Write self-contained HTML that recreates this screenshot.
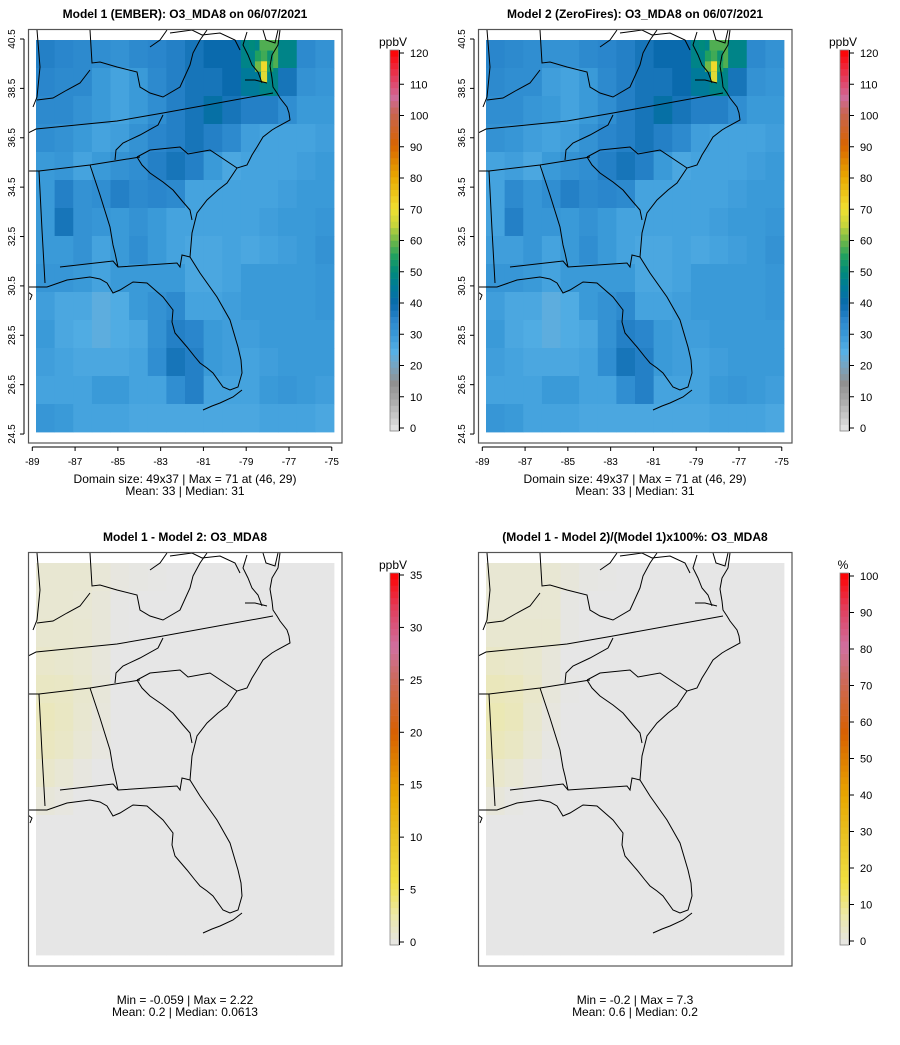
<!DOCTYPE html>
<html><head><meta charset="utf-8">
<style>
html,body{margin:0;padding:0;background:#fff;}
svg{display:block;font-family:"Liberation Sans",sans-serif;}
</style></head>
<body>
<svg id="fig" width="900" height="1045" viewBox="0 0 900 1045" xmlns="http://www.w3.org/2000/svg"></svg>
<script>
// ---- DATA ----
const lonTicks = [-89,-87,-85,-83,-81,-79,-77,-75];
const latTicks = [24.5,26.5,28.5,30.5,32.5,34.5,36.5,38.5,40.5];
const ppbTicks = [0,10,20,30,40,50,60,70,80,90,100,110,120];
const diffTicks = [0,5,10,15,20,25,30,35];
const pctTicks = [0,10,20,30,40,50,60,70,80,90,100];
// Model 1 O3 grid (rows north->south, cols west->east), ppbV
const model1 = [
[36,35,34,33,32,34,35,36,38,40,40,48,58,48,34,32],
[35,34,34,30,28,30,34,36,38,38,40,45,48,38,32,31],
[34,34,32,30,28,30,33,36,38,42,38,36,36,33,30,30],
[33,32,30,28,29,32,35,36,38,36,34,29,28,28,28,29],
[30,31,28,30,32,33,36,38,36,30,27,28,28,28,29,30],
[30,36,32,33,36,34,35,34,28,28,28,28,28,29,30,30],
[30,38,32,31,30,32,30,28,28,28,28,28,29,30,30,31],
[30,30,32,28,30,33,30,28,27,27,28,27,28,29,30,32],
[31,31,30,28,30,30,30,30,27,27,28,30,30,30,30,31],
[29,27,27,24,26,30,32,34,28,28,29,30,30,30,30,31],
[30,27,26,24,26,27,32,36,35,30,29,29,30,30,30,30],
[29,28,27,27,27,28,33,38,36,30,29,28,29,30,30,30],
[28,28,28,30,30,28,28,33,36,28,28,28,30,31,30,29],
[31,30,28,28,28,27,27,27,27,27,27,27,28,28,28,27]];
// Model 2 differs only slightly (west side lower)
const model2 = [
[35,34,33,32,32,34,35,36,38,40,40,48,58,48,34,32],
[34,33,33,29,28,30,34,36,38,38,40,45,48,38,32,31],
[33,33,31,30,28,30,33,36,38,42,38,36,36,33,30,30],
[32,31,29,28,29,32,35,36,38,36,34,29,28,28,28,29],
[28,29,27,30,32,33,36,38,36,30,27,28,28,28,29,30],
[28,34,31,33,36,34,35,34,28,28,28,28,28,29,30,30],
[28,36,31,31,30,32,30,28,28,28,28,28,29,30,30,31],
[29,29,31,28,30,33,30,28,27,27,28,27,28,29,30,32],
[31,31,30,28,30,30,30,30,27,27,28,30,30,30,30,31],
[29,27,27,24,26,30,32,34,28,28,29,30,30,30,30,31],
[30,27,26,24,26,27,32,36,35,30,29,29,30,30,30,30],
[29,28,27,27,27,28,33,38,36,30,29,28,29,30,30,30],
[28,28,28,30,30,28,28,33,36,28,28,28,30,31,30,29],
[31,30,28,28,28,27,27,27,27,27,27,27,28,28,28,27]];
// hotspot cells on native 49x37 grid: [col,row,value]
const hotCols = [37,37,36,38,36,38,37,35];
const hotRows = [2,3,2,2,1,1,1,0];
const hotVals = [71,68,60,55,55,52,57,50];
// Difference grid (ppbV)
const diff = [
[0.9,0.9,0.9,0.7,0.3,0.2,0.1,0,0,0,0,0,0,0,0,0],
[0.9,0.9,0.8,0.6,0.1,0,0,0,0,0,0,0,0,0,0,0],
[1.0,1.0,0.9,0.6,0.1,0,0,0,0,0,0,0,0,0,0,0],
[1.2,1.1,0.9,0.5,0,0,0,0,0,0,0,0,0,0,0,0],
[1.6,1.5,1.1,0.6,0,0,0,0,0,0,0,0,0,0,0,0],
[1.9,1.6,1.0,0.5,0,0,0,0,0,0,0,0,0,0,0,0],
[1.7,1.4,0.8,0.3,0,0,0,0,0,0,0,0,0,0,0,0],
[1.2,0.8,0.3,0,0,0,0,0,0,0,0,0,0,0,0,0],
[0.6,0.3,0,0,0,0,0,0,0,0,0,0,0,0,0,0],
[0,0,0,0,0,0,0,0,0,0,0,0,0,0,0,0],
[0,0,0,0,0,0,0,0,0,0,0,0,0,0,0,0],
[0,0,0,0,0,0,0,0,0,0,0,0,0,0,0,0],
[0,0,0,0,0,0,0,0,0,0,0,0,0,0,0,0],
[0,0,0,0,0,0,0,0,0,0,0,0,0,0,0,0]];
const pct = [
[2.5,2.5,2.5,2.5,1.5,0.5,0.2,0,0,0,0,0,0,0,0,0],
[2.5,2.5,2.5,2.5,0.5,0,0,0,0,0,0,0,0,0,0,0],
[2.8,2.8,2.8,2.8,0.5,0,0,0,0,0,0,0,0,0,0,0],
[4.0,3.5,3.0,1.5,0,0,0,0,0,0,0,0,0,0,0,0],
[5.5,5.0,3.5,1.5,0.3,0,0,0,0,0,0,0,0,0,0,0],
[6.5,5.5,3.0,1.0,0,0,0,0,0,0,0,0,0,0,0,0],
[5.5,4.5,2.5,0.5,0,0,0,0,0,0,0,0,0,0,0,0],
[3.5,2.5,0.8,0,0,0,0,0,0,0,0,0,0,0,0,0],
[1.5,0.5,0,0,0,0,0,0,0,0,0,0,0,0,0,0],
[0,0,0,0,0,0,0,0,0,0,0,0,0,0,0,0],
[0,0,0,0,0,0,0,0,0,0,0,0,0,0,0,0],
[0,0,0,0,0,0,0,0,0,0,0,0,0,0,0,0],
[0,0,0,0,0,0,0,0,0,0,0,0,0,0,0,0],
[0,0,0,0,0,0,0,0,0,0,0,0,0,0,0,0]];

// ---- helpers ----
const NS="http://www.w3.org/2000/svg";
const svg=document.getElementById('fig');
function mk(tag,attrs,parent){const e=document.createElementNS(NS,tag);for(const k in attrs)e.setAttribute(k,attrs[k]);(parent||svg).appendChild(e);return e;}
function hex(c){return [parseInt(c.slice(1,3),16),parseInt(c.slice(3,5),16),parseInt(c.slice(5,7),16)];}
function interp(stops,t){ // stops: [[frac,color]]
  if(t<=stops[0][0])return stops[0][1];
  for(let i=1;i<stops.length;i++){if(t<=stops[i][0]){const a=stops[i-1],b=stops[i];const f=(t-a[0])/(b[0]-a[0]);const A=hex(a[1]),B=hex(b[1]);return 'rgb('+A.map((v,j)=>Math.round(v+(B[j]-v)*f)).join(',')+')';}}
  return stops[stops.length-1][1];}
const o3Stops=[[0,'#e6e6e6'],[10/120,'#a8a8a8'],[15/120,'#909090'],[20/120,'#7aa3bd'],[25/120,'#56b0e6'],[30/120,'#3a9ad8'],[35/120,'#2a86cc'],[40/120,'#0a6aad'],[45/120,'#007a9a'],[50/120,'#008a7c'],[55/120,'#20a060'],[60/120,'#70b848'],[65/120,'#c8d43a'],[70/120,'#f0e030'],[80/120,'#e8a800'],[90/120,'#d86400'],[100/120,'#c86450'],[105/120,'#d06a98'],[110/120,'#e04468'],[120/120,'#ff0000']];
const warmStops=[[0,'#e6e6e6'],[0.08,'#ece8a8'],[0.17,'#f0e040'],[0.3,'#e8c020'],[0.4,'#e8a800'],[0.57,'#d86000'],[0.72,'#cc6a60'],[0.8,'#d070a0'],[0.9,'#e04060'],[1,'#ff0000']];

// geometry
const DX0=36,DX1=334,DY0=40,DY1=432; // data area top-left panel
const xOfLon=l=>32.3+(l+89)*21.39;
const yOfLat=l=>39+(40.5-l)*24.69;

// basemap polylines (pixel coords, top-left panel)
const basemap=[
 [[28,287],[47,287],[67,280],[90,277],[100,279],[107,283],[113,293],[120,290],[133,282],[147,283],[163,297],[173,310],[172,322],[175,333],[187,347],[195,357],[200,363],[207,368],[213,373],[223,387],[230,390],[238,387],[242,373],[241,360],[238,347],[230,320],[217,297],[200,273],[190,257],[192,233],[197,213],[207,200],[218,190],[227,183],[237,168],[247,165],[252,155],[257,147],[263,137],[272,130],[277,127],[290,120],[289,113],[287,107],[280,98],[277,93],[273,87],[272,78],[270,66],[272,55],[278,45],[280,30]],
 [[262,83],[258,72],[252,65],[248,55],[243,45],[247,32]],
 [[245,80],[255,80],[267,83]],
 [[203,410],[212,406],[220,403],[233,397],[242,390]],
 [[28,133],[36,129],[117,121],[163,113],[273,93]],
 [[28,171],[39,171],[90,165],[115,161],[140,157]],
 [[137,157],[150,150],[180,147],[188,154],[210,150],[237,168]],
 [[137,157],[142,165],[150,173],[163,182],[173,190],[183,202],[190,210],[192,220]],
 [[90,165],[100,195],[110,227],[113,245],[115,253],[118,267]],
 [[60,267],[113,261],[118,267],[177,263],[180,267],[182,255],[190,257]],
 [[39,171],[42,230],[45,283]],
 [[90,30],[92,63],[100,62],[117,67],[137,72],[140,87],[150,93],[163,97],[180,87],[190,65],[193,53],[200,40],[207,30]],
 [[115,160],[116,150],[123,143],[140,135],[158,125],[163,115]],
 [[150,47],[160,40],[167,30]],
 [[37,30],[40,67],[37,97],[33,107]],
 [[37,100],[53,98],[67,90],[80,83],[90,70]],
 [[170,33],[192,30],[202,35],[220,33],[235,40],[240,50]],
 [[263,30],[266,40],[275,43],[278,30]],
 [[28,292],[32,295],[30,300]]
];

function drawPanel(o){
  const g=mk('g',{transform:`translate(${o.dx},${o.dy})`});
  
  
  const clipId='clip'+o.name;
  const cp=mk('clipPath',{id:clipId},g);
  mk('rect',{x:28,y:29,width:314,height:414},cp);
  const grid=o.grid, nr=grid.length, nc=grid[0].length;
  const cw=(DX1-DX0)/nc, ch=(DY1-DY0)/nr;
  const cells=mk('g',{},g);
  
  
  for(let r=0;r<nr;r++)for(let c=0;c<nc;c++){
    const rc=mk('rect',{x:(DX0+c*cw).toFixed(2),y:(DY0+r*ch).toFixed(2),width:(cw+0.4).toFixed(2),height:(ch+0.4).toFixed(2),fill:interp(o.stops,grid[r][c]/o.max)},cells);
    
    
  }
  if(o.hot){
    const hw=(DX1-DX0)/49, hh=(DY1-DY0)/37;
    for(let i=0;i<hotVals.length;i++){
      const rc=mk('rect',{x:(DX0+hotCols[i]*hw).toFixed(2),y:(DY0+hotRows[i]*hh).toFixed(2),width:hw.toFixed(2),height:hh.toFixed(2),fill:interp(o.stops,hotVals[i]/o.max)},cells);
      
      
    }
  }
  const bm=mk('g',{'clip-path':`url(#${clipId})`,fill:'none',stroke:'#000','stroke-width':1},g);
  
  
  for(const pl of basemap){mk('polyline',{points:pl.map(p=>p.join(',')).join(' ')},bm);}
  const box=mk('rect',{x:28.5,y:29.5,width:313.5,height:413.5,fill:'none',stroke:'#555','stroke-width':1.2},g);
  
  
  // title
  const t=mk('text',{x:185,y:o.titleY-o.dy,'text-anchor':'middle','font-size':'12','font-weight':'bold'},g);
  t.textContent=o.title;
  
  
  if(o.axes){
    const ax=mk('g',{stroke:'#000','stroke-width':1},g);
    
    
    mk('line',{x1:xOfLon(lonTicks[0]),x2:xOfLon(lonTicks[lonTicks.length-1]),y1:447,y2:447},ax);
    for(const l of lonTicks){const x=xOfLon(l);mk('line',{x1:x,x2:x,y1:447,y2:451},ax);
      const tx=mk('text',{x:x,y:465,'text-anchor':'middle','font-size':'10',stroke:'none',fill:'#000'},ax);tx.textContent=l;
      }
    const ay=mk('g',{stroke:'#000','stroke-width':1},g);
    
    
    mk('line',{x1:24,x2:24,y1:yOfLat(latTicks[0]),y2:yOfLat(latTicks[latTicks.length-1])},ay);
    for(const l of latTicks){const y=yOfLat(l);mk('line',{x1:20,x2:24,y1:y,y2:y},ay);
      const tx=mk('text',{x:0,y:0,transform:`translate(15,${y}) rotate(-90)`,'text-anchor':'middle','font-size':'10',stroke:'none',fill:'#000'},ay);tx.textContent=l.toFixed(1);
      }
  }
  // stats
  o.stats.forEach((s,i)=>{const tx=mk('text',{x:185,y:o.statsY-o.dy+i*12,'text-anchor':'middle','font-size':'12'},g);tx.textContent=s;
    });
  // colorbar
  const cb=mk('g',{},g);
  
  
  const top=o.cbTop-o.dy, bot=o.cbBot-o.dy, n=60, h=(bot-top)/n;
  for(let i=0;i<n;i++){mk('rect',{x:390,y:(bot-(i+1)*h).toFixed(2),width:9,height:(h+0.3).toFixed(2),fill:interp(o.stops,(i+0.5)/n)},cb);}
  mk('rect',{x:390,y:top,width:9,height:bot-top,fill:'none',stroke:'#888','stroke-width':0.8},cb);
  mk('line',{x1:399.5,x2:399.5,y1:top,y2:bot,stroke:'#000'},cb);
  const t0=o.tick0-o.dy, tN=o.tickN-o.dy, ticks=o.ticks;
  for(const v of ticks){const y=t0+(tN-t0)*v/o.max;mk('line',{x1:399,x2:404,y1:y,y2:y,stroke:'#000'},cb);
    const tx=mk('text',{x:410,y:y+4,'font-size':'11'},cb);tx.textContent=v;
    }
  const u=mk('text',{x:o.unit==='%'?393:393,y:top-4,'text-anchor':'middle','font-size':'12'},cb);u.textContent=o.unit;
  
}

drawPanel({name:'model1-map',dx:0,dy:0,grid:model1,hot:true,stops:o3Stops,max:120,title:'Model 1 (EMBER): O3_MDA8 on 06/07/2021',titleY:18,axes:true,
  stats:['Domain size: 49x37 | Max = 71 at (46, 29)','Mean: 33 |  Median: 31'],statsY:483,cbTop:50,cbBot:431,tick0:428,tickN:53,ticks:ppbTicks,unit:'ppbV'});
drawPanel({name:'model2-map',dx:450,dy:0,grid:model2,hot:true,stops:o3Stops,max:120,title:'Model 2 (ZeroFires): O3_MDA8 on 06/07/2021',titleY:18,axes:true,
  stats:['Domain size: 49x37 | Max = 71 at (46, 29)','Mean: 33 |  Median: 31'],statsY:483,cbTop:50,cbBot:431,tick0:428,tickN:53,ticks:ppbTicks,unit:'ppbV'});
drawPanel({name:'difference-map',dx:0,dy:523,grid:diff,hot:false,stops:warmStops,max:35,title:'Model 1 - Model 2: O3_MDA8',titleY:541,axes:false,
  stats:['Min = -0.059 | Max = 2.22','Mean: 0.2 |  Median: 0.0613'],statsY:1004,cbTop:573,cbBot:945,tick0:942,tickN:575,ticks:diffTicks,unit:'ppbV'});
drawPanel({name:'percent-difference-map',dx:450,dy:523,grid:pct,hot:false,stops:warmStops,max:100,title:'(Model 1 - Model 2)/(Model 1)x100%: O3_MDA8',titleY:541,axes:false,
  stats:['Min = -0.2 | Max = 7.3','Mean: 0.6 |  Median: 0.2'],statsY:1004,cbTop:573,cbBot:945,tick0:941,tickN:576,ticks:pctTicks,unit:'%'});
</script>
</body></html>
